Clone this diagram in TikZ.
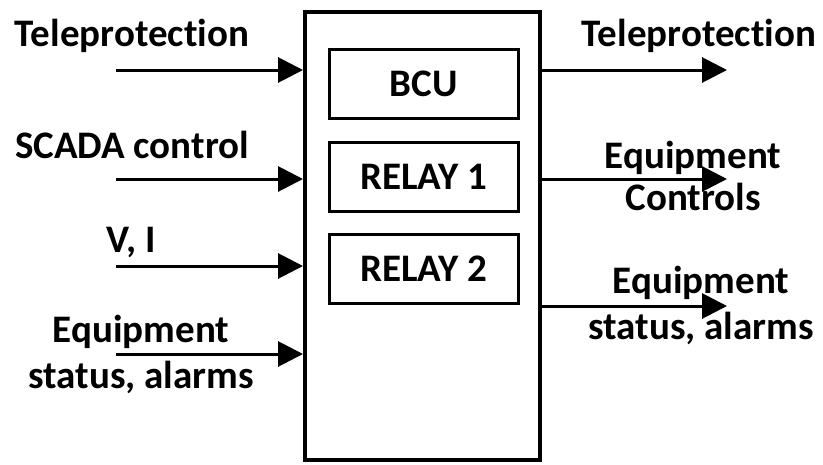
\documentclass[tikz,border=0pt]{standalone}
\usepackage{fontspec}
\setmainfont{Carlito}[Ligatures=NoCommon]
\usetikzlibrary{arrows.meta, positioning}

\tikzset{
  unit/.style={draw, line width=3pt, minimum width=189pt, minimum height=69pt, font=\bfseries\fontsize{39}{45}\selectfont},
  lbl/.style={align=center, inner sep=0pt, font=\bfseries\fontsize{39}{46}\selectfont},
  sig/.style={line width=3pt, -{Triangle[length=25pt, width=25pt]}}
}

\begin{document}
\begin{tikzpicture}[x=1pt, y=-1pt]
  \useasboundingbox (0,0) rectangle (823,464);

  % Define nodes
  \node[draw, line width=4pt, minimum width=235pt, minimum height=448pt] (ied) at (422.5,236) {};
  \node[unit] (bcu) at (423.5,84) {BCU};
  \node[unit, below=21pt of bcu] (relayA) {RELAY 1};
  \node[unit, below=20pt of relayA] (relayB) {RELAY 2};

  % Inputs
  \coordinate (inTp) at (116,70);
  \coordinate (inSc) at (116,179);
  \coordinate (inVI) at (116,266);
  \coordinate (inSt) at (116,354);
  \node[lbl] (lTp) at (132,36) {Teleprotection};
  \node[lbl] (lSc) at (132,145) {SCADA control};
  \node[lbl] (lVI) at (131,242) {V, I};
  \node[lbl] (lSt) at (141,354) {Equipment\\status, alarms};

  % Outputs
  \coordinate (outTp) at (727,70);
  \coordinate (outCt) at (727,179);
  \coordinate (outSt) at (727,306);
  \node[lbl] (rTp) at (699,36) {Teleprotection};
  \node[lbl, font=\bfseries\fontsize{39}{42}\selectfont] (rCt) at (693,176) {Equipment\\Controls};
  \node[lbl] (rSt) at (701,305) {Equipment\\status, alarms};

  % Connect the nodes
  \foreach \s in {inTp, inSc, inVI, inSt}
    \draw[sig] (\s) -- (\s -| ied.west);
  \foreach \t in {outTp, outCt, outSt}
    \draw[sig] (\t -| ied.east) -- (\t);
\end{tikzpicture}
\end{document}
